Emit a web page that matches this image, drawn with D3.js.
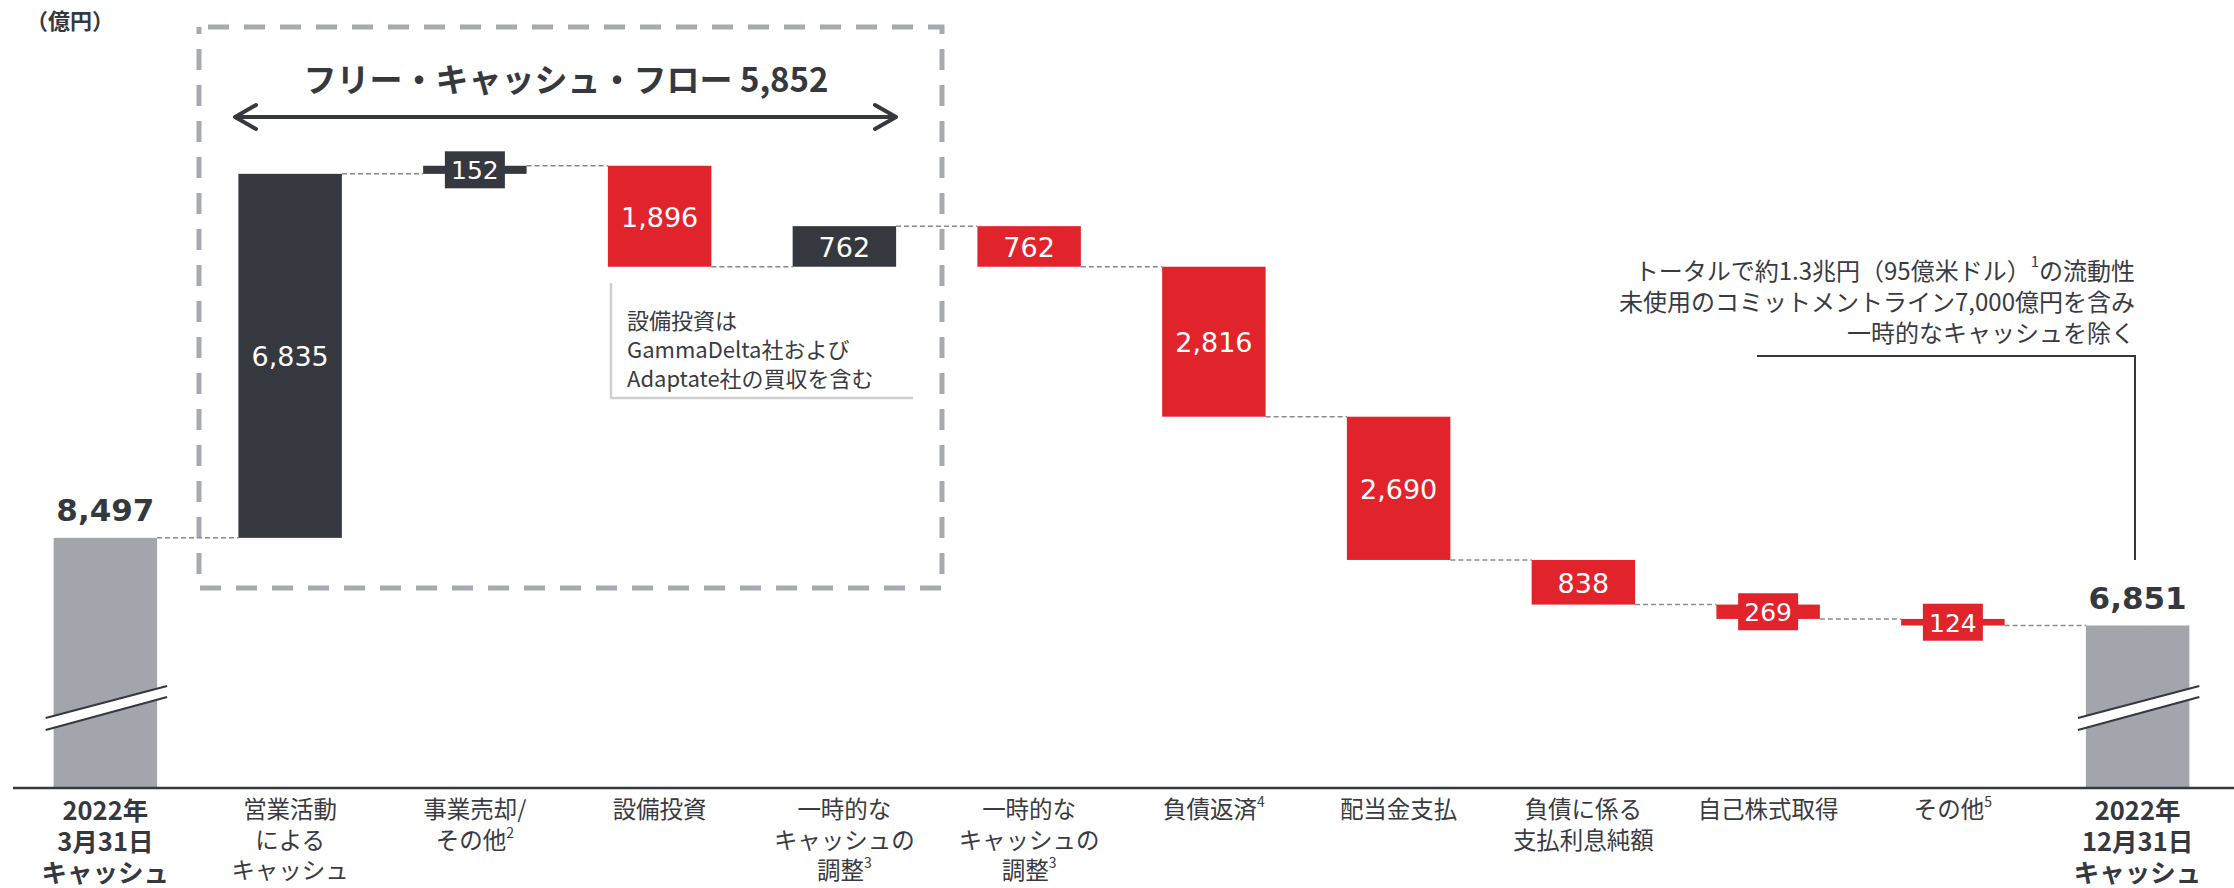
<!DOCTYPE html>
<html><head><meta charset="utf-8">
<script src="https://cdn.jsdelivr.net/npm/d3@7"></script>
<style>body{margin:0;background:#fff;overflow:hidden} svg{display:block}</style>
</head><body>
<svg id="c" width="2234" height="888"></svg>
<script>
// ---- data ----
const categories = ["start","op","divest","capex","adj1","adj2","debt","div","interest","buyback","other","end"];
const labelLines = [
  ["2022年","3月31日","キャッシュ"],
  ["営業活動","による","キャッシュ","・フロー"],
  ["事業売却/","その他^2"],
  ["設備投資"],
  ["一時的な","キャッシュの","調整^3"],
  ["一時的な","キャッシュの","調整^3"],
  ["負債返済^4"],
  ["配当金支払"],
  ["負債に係る","支払利息純額"],
  ["自己株式取得"],
  ["その他^5"],
  ["2022年","12月31日","キャッシュ"]
];
const values = [8497, 6835, 152, -1896, 762, -762, -2816, -2690, -838, -269, -124, 6851];
const kinds  = ["total","pos","pos","neg","pos","neg","neg","neg","neg","neg","neg","total"];
const valueLabels = ["8,497","6,835","152","1,896","762","762","2,816","2,690","838","269","124","6,851"];
const unitLabel = "（億円）";
const fcfTitle = "フリー・キャッシュ・フロー 5,852";
const capexNote = ["設備投資は","GammaDelta社および","Adaptate社の買収を含む"];
const liquidityNote = ["トータルで約1.3兆円（95億米ドル）^1の流動性","未使用のコミットメントライン7,000億円を含み","一時的なキャッシュを除く"];

// ---- styles ----
const C = {dark:"#363840", red:"#e1242b", gray:"#a3a5ad", box:"#a7a9b0", text:"#3a3b42", conn:"#8a8a8a"};
const colorOf = k => k==="total"?C.gray:(k==="pos"?C.dark:C.red);
const JP = "'Noto Sans CJK JP','Noto Sans',sans-serif";
const NUM = "'DejaVu Sans',Verdana,sans-serif";

const svg = d3.select("#c");
const axisY = 788;

const x = d3.scaleBand().domain(categories).range([13, 2230]).paddingInner(0.44).paddingOuter(0.22);
const y = d3.scaleLinear().domain([3800, 15400]).range([axisY, axisY - 11600*0.053255]);

// compute waterfall
let run = 0;
const bars = categories.map((c,i)=>{
  const v = values[i], k = kinds[i];
  let a,b;
  if (k==="total"){ a = y.domain()[0]; b = v; run = v; }
  else { a = run; b = run + v; run = b; }
  return {c, i, v, k, lo: Math.min(a,b), hi: Math.max(a,b), end: run};
});

// multi-line text in one element; "^" marks a one-character superscript
function multiLine(sel, lines, xPos, y0, step, supSize, rise){
  lines.forEach((str,j)=>{
    const parts = str.split("^");
    sel.append("tspan").attr("x",xPos).attr("y",y0+j*step).text(parts[0]);
    if (parts.length>1){
      sel.append("tspan").attr("font-size", supSize).attr("dy",-rise).text(parts[1][0]);
      if (parts[1].length>1) sel.append("tspan").attr("dy",rise).text(parts[1].slice(1));
    }
  });
}

// dashed FCF box
svg.append("rect").attr("x",199).attr("y",27).attr("width",743).attr("height",561)
  .attr("fill","none").attr("stroke",C.box).attr("stroke-width",5)
  .attr("stroke-dasharray","21 15").attr("stroke-dashoffset",27);

// unit
svg.append("text").attr("x",26).attr("y",19).attr("dominant-baseline","central")
  .attr("font-family",JP).attr("font-weight",700).attr("font-size",22).attr("fill",C.dark).text(unitLabel);

// FCF title + arrow
svg.append("text").attr("x",566).attr("y",78).attr("text-anchor","middle").attr("dominant-baseline","central")
  .attr("font-family",JP).attr("font-weight",700).attr("font-size",33).attr("fill",C.dark).text(fcfTitle);
const ay = 117, ax0 = 235, ax1 = 896;
svg.append("path").attr("d",`M${ax0},${ay}H${ax1}M${ax0+21},${ay-12}L${ax0},${ay}L${ax0+21},${ay+12}M${ax1-21},${ay-12}L${ax1},${ay}L${ax1-21},${ay+12}`)
  .attr("fill","none").attr("stroke",C.dark).attr("stroke-width",4).attr("stroke-linecap","round").attr("stroke-linejoin","round");

// connectors
const connG = svg.append("g");
bars.forEach((b,i)=>{
  if (i===bars.length-1) return;
  const yy = y(b.end);
  connG.append("line").attr("x1",x(b.c)+x.bandwidth()).attr("x2",x(bars[i+1].c))
    .attr("y1",yy).attr("y2",yy).attr("stroke",C.conn).attr("stroke-width",1.5).attr("stroke-dasharray","5 3");
});

// bars
const bw = x.bandwidth();
svg.append("g").selectAll("rect").data(bars).join("rect")
  .attr("x",d=>x(d.c)).attr("width",bw)
  .attr("y",d=>y(d.hi)).attr("height",d=>y(d.lo)-y(d.hi))
  .attr("fill",d=>colorOf(d.k));

// break marks on total bars
bars.filter(d=>d.k==="total").forEach(d=>{
  const x0 = x(d.c)-8, x1 = x(d.c)+bw+10;
  svg.append("path").attr("d",`M${x0},718L${x1},686L${x1},697L${x0},730Z`).attr("fill","#fff");
  svg.append("path").attr("d",`M${x0},718L${x1},686M${x0},730L${x1},697`).attr("stroke",C.dark).attr("stroke-width",2).attr("fill","none");
});

// value labels
bars.forEach((d,i)=>{
  const cx = x(d.c)+bw/2;
  if (d.k==="total"){
    svg.append("text").attr("x",cx).attr("y",y(d.hi)-17).attr("text-anchor","middle")
      .attr("font-family",NUM).attr("font-weight",700).attr("font-size",31).attr("fill",C.dark).text(valueLabels[i]);
  } else if (Math.abs(d.v) < 400){
    const cy = (y(d.hi)+y(d.lo))/2;
    svg.append("rect").attr("x",cx-30).attr("y",cy-18.5).attr("width",60).attr("height",37).attr("fill",colorOf(d.k));
    svg.append("text").attr("x",cx).attr("y",cy+1).attr("text-anchor","middle").attr("dominant-baseline","central")
      .attr("font-family",NUM).attr("font-size",25).attr("fill","#fff").text(valueLabels[i]);
  } else {
    const cy = (y(d.hi)+y(d.lo))/2;
    svg.append("text").attr("x",cx).attr("y",cy+1).attr("text-anchor","middle").attr("dominant-baseline","central")
      .attr("font-family",NUM).attr("font-size",27).attr("fill","#fff").text(valueLabels[i]);
  }
});

// axis
const axis = d3.axisBottom(x).tickSize(0).tickSizeOuter(0).tickFormat("");
const ag = svg.append("g").attr("transform",`translate(0,${axisY})`).call(axis);
ag.select(".domain").attr("stroke",C.dark).attr("stroke-width",2.5).attr("d","M13,0H2234");

// category labels (one text element per category)
categories.forEach((c,i)=>{
  const bold = kinds[i]==="total";
  const cx = x(c)+bw/2;
  const t = svg.append("text").attr("text-anchor","middle").attr("dominant-baseline","central")
    .attr("font-family",JP).attr("font-weight",bold?700:400).attr("font-size",bold?25.5:23.5)
    .attr("fill",bold?C.dark:C.text);
  multiLine(t, labelLines[i], cx, bold?808:808, bold?31:30.5, 14, 7);
});

// capex note
svg.append("path").attr("d","M611,283V398H913").attr("fill","none").attr("stroke","#cfcfcf").attr("stroke-width",2.5);
const cn = svg.append("text").attr("dominant-baseline","central")
  .attr("font-family",JP).attr("font-size",22).attr("fill",C.text);
multiLine(cn, capexNote, 627, 319, 29, 14, 7);

// liquidity note
const ln = svg.append("text").attr("text-anchor","end").attr("dominant-baseline","central")
  .attr("font-family",JP).attr("font-size",24).attr("fill",C.text);
multiLine(ln, liquidityNote, 2135, 269, 31, 15, 9);
svg.append("path").attr("d",`M1757,356H2135V560`).attr("fill","none").attr("stroke",C.dark).attr("stroke-width",2);
</script>
</body></html>
